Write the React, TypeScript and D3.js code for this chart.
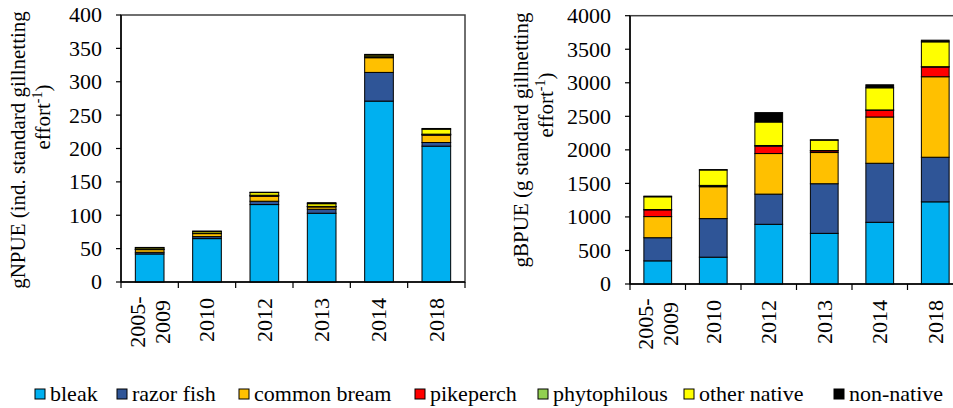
import React from "react";
import * as d3 from "d3";

const categories = ["2005-2009", "2010", "2012", "2013", "2014", "2018"];
const species = ["bleak", "razor fish", "common bream", "pikeperch", "phytophilous", "other native", "non-native"];
const speciesColors = ["#00B0F0", "#2F5597", "#FFC000", "#FF0000", "#92D050", "#FFFF00", "#000000"];

// gNPUE (ind. per standard gillnetting effort)
const nBleak = [42, 65, 116, 103, 271, 203.5];
const nRazor = [2.5, 3, 5, 6, 43, 5.5];
const nBream = [4, 4.5, 7.5, 3.5, 22, 11];
const nPike = [0.5, 0.5, 1, 0.5, 1, 1];
const nPhyto = [0.3, 0.3, 0.5, 0.3, 0.5, 0.5];
const nOther = [2, 2.5, 4, 4, 2.5, 7.5];
const nNon = [0.5, 0.5, 0.5, 1.5, 1, 1];

// gBPUE (g per standard gillnetting effort)
const gBleak = [345, 400, 890, 755, 920, 1225];
const gRazor = [345, 575, 450, 740, 880, 665];
const gBream = [315, 475, 605, 465, 690, 1200];
const gPike = [100, 15, 110, 25, 100, 145];
const gPhyto = [5, 5, 10, 5, 5, 5];
const gOther = [190, 230, 350, 155, 330, 370];
const gNon = [10, 5, 140, 5, 45, 25];

const nTicks = [0, 50, 100, 150, 200, 250, 300, 350, 400];
const gTicks = [0, 500, 1000, 1500, 2000, 2500, 3000, 3500, 4000];

const FONT = "Liberation Serif, Times New Roman, DejaVu Serif, serif";

const buildRows = (series) =>
  categories.map((c, i) => {
    const row = { cat: c };
    species.forEach((s, j) => (row[s] = series[j][i]));
    return row;
  });

type PanelProps = {
  series: number[][];
  ticks: number[];
  left: number;
  width: number;
  top: number;
  bottom: number;
  titleX: number;
  title1: string;
  title1Y: number;
  title2Y: number;
};

const Panel = ({ series, ticks, left, width, top, bottom, titleX, title1, title1Y, title2Y }: PanelProps) => {
  const x = d3.scaleBand().domain(categories).range([left, left + width]).paddingInner(0.5).paddingOuter(0.25);
  const y = d3.scaleLinear().domain([0, ticks[ticks.length - 1]]).range([bottom, top]);
  const stacked = d3.stack().keys(species)(buildRows(series));
  const step = x.step();
  const boundaries = d3.range(categories.length + 1).map((i) => left + i * step);

  return (
    <g>
      <rect x={left} y={top} width={width} height={bottom - top} fill="none" stroke="#404040" strokeWidth={1.5} />
      {stacked.map((layer, li) => (
        <g key={species[li]}>
          {layer.map((d, i) => (
            <rect
              key={i}
              x={x(categories[i])}
              y={y(d[1])}
              width={x.bandwidth()}
              height={Math.max(0, y(d[0]) - y(d[1]))}
              fill={speciesColors[li]}
              stroke="#000"
              strokeWidth={1}
            />
          ))}
        </g>
      ))}
      {/* axes */}
      <line x1={left} x2={left} y1={top} y2={bottom} stroke="#000" strokeWidth={1.5} />
      <line x1={left} x2={left + width} y1={bottom} y2={bottom} stroke="#000" strokeWidth={1.5} />
      {ticks.map((t) => (
        <g key={t}>
          <line x1={left - 5} x2={left} y1={y(t)} y2={y(t)} stroke="#000" strokeWidth={1.2} />
          <text x={left - 19} y={y(t)} dy="0.34em" textAnchor="end" fontSize={22}>
            {t}
          </text>
        </g>
      ))}
      {boundaries.map((b, i) => (
        <line key={i} x1={b} x2={b} y1={bottom} y2={bottom + 6} stroke="#000" strokeWidth={1.2} />
      ))}
      {categories.map((c) => {
        const cx = x(c) + x.bandwidth() / 2;
        const parts = c.includes("-") ? [c.slice(0, 5), c.slice(5)] : [c];
        if (parts.length === 1) {
          return (
            <text
              key={c}
              transform={`translate(${cx},${bottom + 16}) rotate(-90)`}
              textAnchor="end"
              dy="0.34em"
              fontSize={22}
            >
              {c}
            </text>
          );
        }
        return (
          <g key={c} transform={`translate(${cx},${bottom + 40}) rotate(-90)`}>
            {parts.map((p, k) => (
              <text key={k} y={(k - 0.5) * 25} dy="0.34em" textAnchor="middle" fontSize={22}>
                {p}
              </text>
            ))}
          </g>
        );
      })}
      {/* y title */}
      <text transform={`translate(${titleX},${title1Y}) rotate(-90)`} textAnchor="middle" fontSize={21}>
        {title1}
      </text>
      <text transform={`translate(${titleX + 25},${title2Y}) rotate(-90)`} textAnchor="middle" fontSize={21}>
        effort
        <tspan dy={-8} fontSize={14}>-1</tspan>
        <tspan dy={8}>)</tspan>
      </text>
    </g>
  );
};

const legendX = [35, 117, 239, 415, 538, 684, 834];

export default function App() {
  return (
    <svg
      width={953}
      height={408}
      style={{ position: "absolute", left: 0, top: 0, background: "#fff", fontFamily: FONT }}
    >
      <Panel
        series={[nBleak, nRazor, nBream, nPike, nPhyto, nOther, nNon]}
        ticks={nTicks}
        left={121}
        width={344}
        top={15}
        bottom={282}
        titleX={25}
        title1="gNPUE (ind. standard gillnetting"
        title1Y={150}
        title2Y={117}
      />
      <Panel
        series={[gBleak, gRazor, gBream, gPike, gPhyto, gOther, gNon]}
        ticks={gTicks}
        left={630}
        width={333}
        top={15.7}
        bottom={284}
        titleX={528}
        title1="gBPUE (g standard gillnetting"
        title1Y={140}
        title2Y={105}
      />
      {species.map((s, i) => (
        <g key={s}>
          <rect x={legendX[i]} y={389} width={10} height={10} fill={speciesColors[i]} stroke="#000" strokeWidth={1} />
          <text x={legendX[i] + 15} y={401} fontSize={22}>
            {s}
          </text>
        </g>
      ))}
    </svg>
  );
}
